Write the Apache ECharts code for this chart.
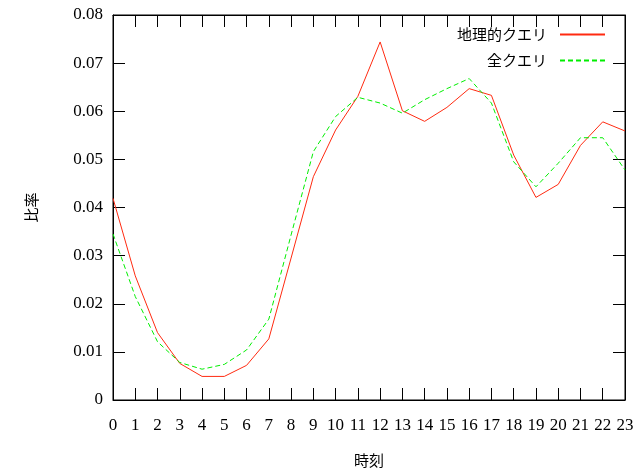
<!DOCTYPE html>
<html>
<head>
<meta charset="utf-8">
<script src="https://cdn.jsdelivr.net/npm/echarts@6/dist/echarts.min.js"></script>
<style>
  html, body { margin: 0; padding: 0; background: #fff; }
  #chart { width: 637px; height: 470px; }
</style>
</head>
<body>
<div id="chart"></div>
<script>
// Hourly share of queries (0–23 h)
const hours = ['0','1','2','3','4','5','6','7','8','9','10','11','12','13','14','15','16','17','18','19','20','21','22','23'];
const geoQueries = [0.0419, 0.0258, 0.0140, 0.0076, 0.0049, 0.0049, 0.0072, 0.0127, 0.0295, 0.0464, 0.0561, 0.0631, 0.0744, 0.0601, 0.0579, 0.0608, 0.0647, 0.0633, 0.0509, 0.0421, 0.0448, 0.0529, 0.0578, 0.0559];
const allQueries = [0.0345, 0.0215, 0.0121, 0.0078, 0.0064, 0.0074, 0.0104, 0.0168, 0.0343, 0.0516, 0.0589, 0.0629, 0.0617, 0.0596, 0.0624, 0.0647, 0.0668, 0.0617, 0.0495, 0.0443, 0.0492, 0.0545, 0.0545, 0.0478];
const yTicks = [0, 0.01, 0.02, 0.03, 0.04, 0.05, 0.06, 0.07, 0.08];
const seriesNames = ['地理的クエリ', '全クエリ'];

const serif = '"Liberation Serif", "DejaVu Serif", serif';
const cjk = '"Noto Sans CJK JP", "Noto Sans CJK SC", sans-serif';

// fresh style objects for every axis
const axisLine = () => ({ show: true, onZero: false, lineStyle: { color: '#000', width: 1 } });
const innerTick = () => ({ show: true, inside: true, length: 12, lineStyle: { color: '#000', width: 1 } });

const chart = echarts.init(document.getElementById('chart'));
chart.setOption({
  animation: false,
  grid: {
    left: 113, right: 12, top: 15, bottom: 70,
    containLabel: false, outerBoundsMode: 'none',
    show: true, borderColor: '#000', borderWidth: 1, backgroundColor: 'transparent'
  },
  legend: {
    orient: 'vertical',
    right: 26,
    top: 22,
    align: 'right',
    itemWidth: 45,
    itemHeight: 14,
    itemGap: 11,
    data: seriesNames,
    itemStyle: { opacity: 0 },
    textStyle: { fontFamily: cjk, fontSize: 15, color: '#000', padding: [0, 8, 0, 0] }
  },
  xAxis: [
    {
      type: 'category',
      data: hours,
      boundaryGap: false,
      position: 'bottom',
      name: '時刻',
      nameLocation: 'middle',
      nameGap: 53,
      nameTextStyle: { fontFamily: cjk, fontSize: 15, color: '#000' },
      axisLine: axisLine(),
      axisTick: innerTick(),
      axisLabel: { fontFamily: serif, fontSize: 17, color: '#000', margin: 17, interval: 0 },
      splitLine: { show: false }
    },
    {
      type: 'category',
      data: hours,
      boundaryGap: false,
      position: 'top',
      axisLine: axisLine(),
      axisTick: innerTick(),
      axisLabel: { show: false },
      splitLine: { show: false }
    }
  ],
  yAxis: [
    {
      type: 'value',
      min: yTicks[0],
      max: yTicks[yTicks.length - 1],
      interval: 0.01,
      position: 'left',
      name: '比率',
      nameLocation: 'middle',
      nameGap: 74,
      nameRotate: 90,
      nameTextStyle: { fontFamily: cjk, fontSize: 15, color: '#000' },
      axisLine: axisLine(),
      axisTick: innerTick(),
      axisLabel: {
        fontFamily: serif, fontSize: 17, color: '#000', margin: 10,
        formatter: v => (v === 0 ? '0' : v.toFixed(2))
      },
      splitLine: { show: false }
    },
    {
      type: 'value',
      min: yTicks[0],
      max: yTicks[yTicks.length - 1],
      interval: 0.01,
      position: 'right',
      axisLine: axisLine(),
      axisTick: innerTick(),
      axisLabel: { show: false },
      splitLine: { show: false }
    }
  ],
  series: [
    {
      name: seriesNames[0],
      type: 'line',
      xAxisIndex: 0,
      yAxisIndex: 0,
      data: geoQueries,
      symbol: 'none',
      lineStyle: { color: '#ff2a10', width: 1 },
      itemStyle: { color: '#ff2a10' }
    },
    {
      // drawn against the mirrored top/right axes (same scale)
      name: seriesNames[1],
      type: 'line',
      xAxisIndex: 1,
      yAxisIndex: 1,
      data: allQueries,
      symbol: 'none',
      lineStyle: { color: '#00ee00', width: 1, type: [5, 3] },
      itemStyle: { color: '#00ee00' }
    }
  ]
});
</script>
</body>
</html>
